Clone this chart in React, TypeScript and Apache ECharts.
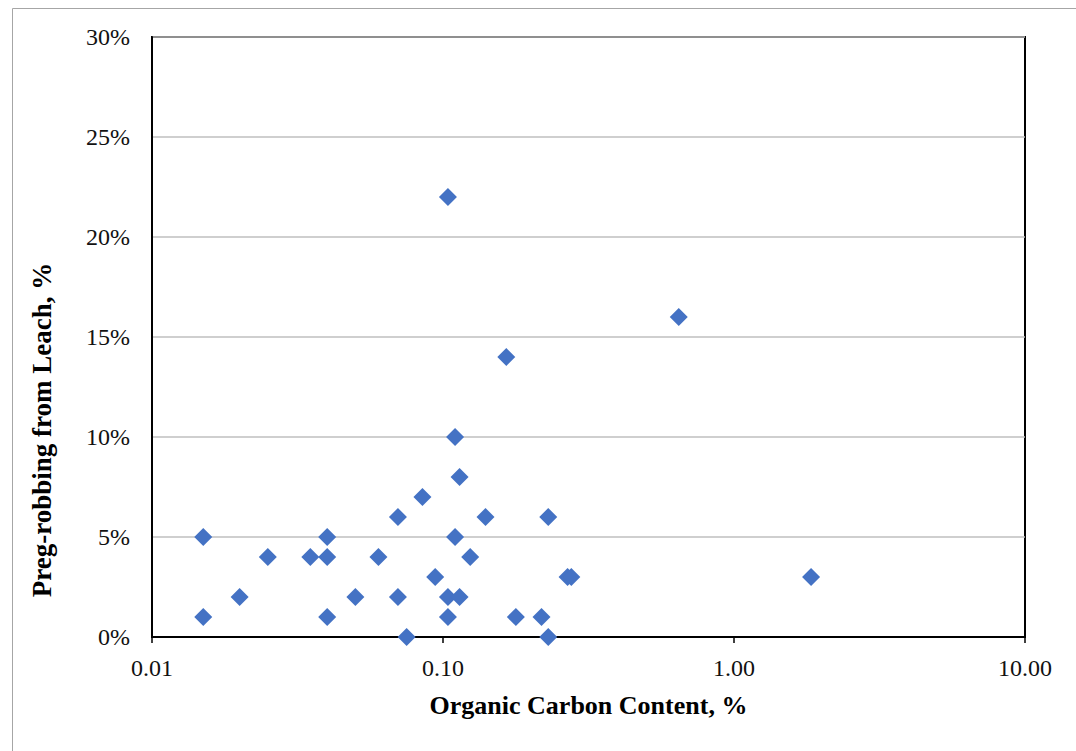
import React, { useEffect, useRef } from "react";
import * as echarts from "echarts";

// Organic carbon content (%) and preg-robbing from leach (%)
const carbonContent: number[] = [
  0.015, 0.015, 0.02, 0.025, 0.035, 0.04, 0.04, 0.04, 0.05, 0.06,
  0.07, 0.07, 0.075, 0.085, 0.094, 0.104, 0.104, 0.104, 0.11, 0.11,
  0.114, 0.114, 0.124, 0.14, 0.165, 0.178, 0.218, 0.23, 0.23, 0.268,
  0.276, 0.646, 1.84,
];
const pregRobbing: number[] = [
  5, 1, 2, 4, 4, 5, 4, 1, 2, 4,
  6, 2, 0, 7, 3, 22, 2, 1, 10, 5,
  8, 2, 4, 6, 14, 1, 1, 6, 0, 3,
  3, 16, 3,
];
const xTicks: number[] = [0.01, 0.1, 1, 10];
const yTicks: number[] = [0, 5, 10, 15, 20, 25, 30];

const xTitle = "Organic Carbon Content, %";
const yTitle = "Preg-robbing from Leach, %";

export default function App() {
  const ref = useRef<HTMLDivElement>(null);
  useEffect(() => {
    if (!ref.current) return;
    const chart = echarts.init(ref.current, null, { renderer: "svg" });
    const font = '"Liberation Serif", "Times New Roman", serif';
    const data = carbonContent.map((x, i) => [x, pregRobbing[i]]);
    chart.setOption({
      animation: false,
      backgroundColor: "#fff",
      grid: {
        left: 152,
        top: 37,
        right: 51,
        bottom: 114,
        show: true,
        borderColor: "#000",
        borderWidth: 2,
        containLabel: false,
      },
      xAxis: {
        type: "log",
        logBase: 10,
        min: xTicks[0],
        max: xTicks[xTicks.length - 1],
        name: xTitle,
        nameLocation: "middle",
        nameGap: 55,
        nameTextStyle: { fontFamily: font, fontWeight: "bold", fontSize: 26, color: "#000" },
        axisLine: { show: true, lineStyle: { color: "#000", width: 2 } },
        axisTick: { show: true, length: 6, inside: false, lineStyle: { color: "#000", width: 1.5 } },
        minorTick: { show: false },
        splitLine: { show: false },
        axisLabel: {
          fontFamily: font,
          fontSize: 24,
          color: "#111",
          margin: 19,
          formatter: (v: number) => Number(v).toFixed(2),
        },
      },
      yAxis: {
        type: "value",
        min: yTicks[0],
        max: yTicks[yTicks.length - 1],
        interval: 5,
        axisLine: { show: true, lineStyle: { color: "#000", width: 2 } },
        axisTick: { show: false },
        splitLine: { show: true, lineStyle: { color: "#BFBFBF", width: 1.5 } },
        axisLabel: {
          fontFamily: font,
          fontSize: 24,
          color: "#111",
          margin: 22,
          formatter: (v: number) => `${v}%`,
        },
      },
      graphic: [
        {
          type: "rect",
          left: 10,
          top: 6,
          shape: { x: 0, y: 0, width: 1200, height: 900 },
          style: { fill: "none", stroke: "#A6A6A6", lineWidth: 1 },
          silent: true,
          z: -1,
        },
        {
          type: "text",
          x: 42,
          y: 430,
          rotation: Math.PI / 2,
          style: {
            text: yTitle,
            font: `bold 27px ${font}`,
            fill: "#000",
            align: "center",
            verticalAlign: "middle",
          },
        },
      ],
      series: [
        {
          type: "scatter",
          data,
          symbol: "diamond",
          symbolSize: [18, 18],
          itemStyle: { color: "#4472C4", opacity: 1 },
          clip: false,
        },
      ],
    });
    return () => chart.dispose();
  }, []);
  return (
    <div
      ref={ref}
      style={{ position: "fixed", left: 0, top: 0, width: 1076, height: 751 }}
    />
  );
}
